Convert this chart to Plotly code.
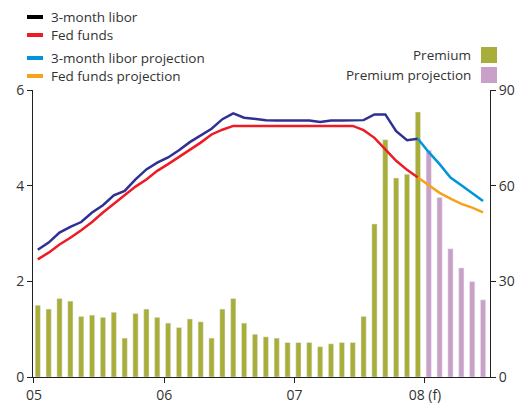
import plotly.graph_objects as go

# ---------------- data ----------------
months = list(range(42))  # Jan 2005 .. Jun 2008
tick_vals = [0, 12, 24, 36]
tick_text = ["05", "06", "07", "08 (f)"]

premium = [22.5, 21.3, 24.6, 23.8, 19.0, 19.4, 18.7, 20.3, 12.2, 19.9,
           21.3, 18.7, 16.9, 15.5, 18.2, 17.3, 12.2, 21.3, 24.6, 16.9,
           13.4, 12.6, 12.2, 10.8, 10.8, 10.8, 9.5, 10.4, 10.8, 10.8,
           19.0, 48.0, 74.4, 62.4, 63.6, 83.1]
premium_proj = [71.1, 56.3, 40.2, 34.2, 29.9, 24.2]

libor = [2.66, 2.81, 3.02, 3.14, 3.24, 3.44, 3.59, 3.80, 3.89, 4.13,
         4.34, 4.48, 4.59, 4.74, 4.91, 5.05, 5.19, 5.39, 5.51, 5.42,
         5.39, 5.37, 5.36, 5.36, 5.36, 5.36, 5.33, 5.36, 5.36, 5.36,
         5.37, 5.49, 5.49, 5.14, 4.95, 4.98]
fedfunds = [2.46, 2.60, 2.77, 2.91, 3.07, 3.24, 3.44, 3.62, 3.80, 3.98,
            4.13, 4.31, 4.45, 4.60, 4.75, 4.90, 5.07, 5.17, 5.25, 5.25,
            5.25, 5.25, 5.25, 5.25, 5.25, 5.25, 5.25, 5.25, 5.25, 5.25,
            5.16, 5.00, 4.76, 4.52, 4.33, 4.17]
libor_proj = [4.98, 4.70, 4.45, 4.17, 4.01, 3.85, 3.68]
fed_proj = [4.17, 4.01, 3.85, 3.73, 3.62, 3.54, 3.44]

# ---------------- style ----------------
C_LIBOR = "#2E3192"
C_FED = "#ED1C24"
C_LIBOR_P = "#0095DA"
C_FED_P = "#F7A21B"
C_PREM = "#A9AE3A"
C_PREM_P = "#C8A0C8"
TXT = "#333333"
AX = "#231F20"
FONT = "Open Sans"
FS_LEG = 13.5
FS_TICK = 14
OFF = 0.35

n_hist = len(premium)
x_hist = [m + OFF for m in months[:n_hist]]
x_proj_bar = [m + OFF for m in months[n_hist:n_hist + len(premium_proj)]]
x_line = [m + OFF for m in months[:len(libor)]]
x_line_p = [m + OFF for m in months[len(libor) - 1:len(libor) - 1 + len(libor_proj)]]

fig = go.Figure()
fig.add_trace(go.Bar(x=x_hist, y=premium, marker_color=C_PREM, width=0.48,
                     yaxis="y", showlegend=False, name="Premium"))
fig.add_trace(go.Bar(x=x_proj_bar, y=premium_proj, marker_color=C_PREM_P, width=0.48,
                     yaxis="y", showlegend=False, name="Premium projection"))
fig.add_trace(go.Scatter(x=x_line, y=fedfunds, mode="lines", yaxis="y2",
                         line=dict(color=C_FED, width=2.5), showlegend=False))
fig.add_trace(go.Scatter(x=x_line, y=libor, mode="lines", yaxis="y2",
                         line=dict(color=C_LIBOR, width=2.5), showlegend=False))
fig.add_trace(go.Scatter(x=x_line_p, y=fed_proj, mode="lines", yaxis="y2",
                         line=dict(color=C_FED_P, width=2.5), showlegend=False))
fig.add_trace(go.Scatter(x=x_line_p, y=libor_proj, mode="lines", yaxis="y2",
                         line=dict(color=C_LIBOR_P, width=2.5), showlegend=False))

# ---------------- manual legends ----------------
PL, PR, PT, PB = 33, 490, 90, 377
PW, PH = PR - PL, PB - PT
shapes = []
annotations = []
left_items = [("3-month libor", "#000000", 17), ("Fed funds", C_FED, 35),
              ("3-month libor projection", C_LIBOR_P, 58), ("Fed funds projection", C_FED_P, 76)]
for label, col, yc in left_items:
    shapes.append(dict(type="line", xref="paper", yref="paper",
                       x0=(27 - PL) / PW, x1=(43 - PL) / PW,
                       y0=(PB - yc) / PH, y1=(PB - yc) / PH,
                       line=dict(color=col, width=4)))
    annotations.append(dict(text=label, xref="paper", yref="paper",
                            x=(49 - PL) / PW, y=(PB - yc) / PH,
                            xanchor="left", yanchor="middle", showarrow=False,
                            font=dict(family=FONT, size=FS_LEG, color=TXT)))
right_items = [("Premium", C_PREM, 55), ("Premium projection", C_PREM_P, 75)]
for label, col, yc in right_items:
    shapes.append(dict(type="rect", xref="paper", yref="paper",
                       x0=(481 - PL) / PW, x1=(497 - PL) / PW,
                       y0=(PB - yc - 8) / PH, y1=(PB - yc + 8) / PH,
                       fillcolor=col, line=dict(width=0)))
    annotations.append(dict(text=label, xref="paper", yref="paper",
                            x=(473 - PL) / PW, y=(PB - yc) / PH,
                            xanchor="right", yanchor="middle", showarrow=False,
                            font=dict(family=FONT, size=FS_LEG, color=TXT)))

fig.update_layout(
    width=520, height=405,
    margin=dict(l=PL, r=520 - PR, t=PT, b=405 - PB, autoexpand=False),
    paper_bgcolor="white", plot_bgcolor="white",
    font=dict(family=FONT, size=FS_TICK, color=TXT),
    barmode="overlay",
    showlegend=False,
    shapes=shapes, annotations=annotations,
    xaxis=dict(range=[-0.09, 41.99], tickvals=tick_vals, ticktext=tick_text,
               showgrid=False, zeroline=False, showline=True, linecolor=AX, linewidth=1,
               ticks="outside", ticklen=5, tickcolor=AX, tickfont=dict(size=FS_TICK, color=TXT)),
    yaxis=dict(range=[0, 90], side="right", tickvals=[0, 30, 60, 90],
               showgrid=False, zeroline=False, showline=True, linecolor=AX, linewidth=1,
               ticks="outside", ticklen=5, tickcolor=AX, tickfont=dict(size=FS_TICK, color=TXT)),
    yaxis2=dict(range=[0, 6], side="left", overlaying="y", tickvals=[0, 2, 4, 6],
                showgrid=False, zeroline=False, showline=True, linecolor=AX, linewidth=1,
                ticks="outside", ticklen=5, tickcolor=AX, tickfont=dict(size=FS_TICK, color=TXT)),
)

fig.write_html("out.html", config={"displayModeBar": False},
               post_script="document.body.style.margin='0px';")
